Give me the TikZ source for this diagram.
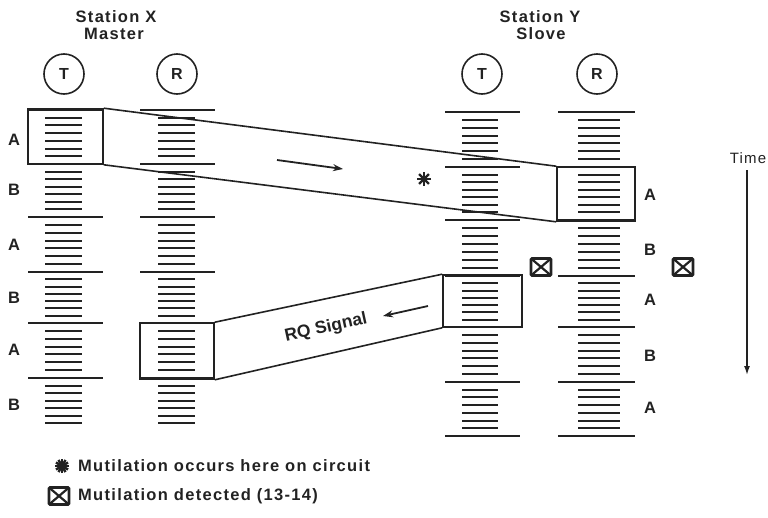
\documentclass[tikz,border=0pt]{standalone}
\usepackage{fontspec}
\setmainfont{Liberation Sans}[LetterSpace=8]
\newfontfamily\plainfont{Liberation Sans}
\usetikzlibrary{arrows.meta}
\definecolor{inkc}{HTML}{222222}
\tikzset{
  lbl/.style={font=\fontsize{16.5}{18}\selectfont\bfseries, text=inkc, inner sep=0pt},
  circ/.style={circle, draw=inkc, line width=1.6pt, minimum size=40pt, inner sep=0pt, font=\fontsize{16}{18}\selectfont\bfseries, text=inkc},
  sigbox/.style={rectangle, draw=inkc, line width=1.6pt, inner sep=0pt},
  shortl/.style={draw=inkc, line width=2pt},
  longl/.style={draw=inkc, line width=1.6pt},
  edge/.style={draw=inkc, line width=1.6pt},
  xbox/.style={rectangle, draw=inkc, line width=2.6pt, rounded corners=1pt, minimum width=20pt, minimum height=17pt, inner sep=0pt,
    path picture={\draw[inkc, line width=2.2pt] (path picture bounding box.north west) -- (path picture bounding box.south east)
      (path picture bounding box.north east) -- (path picture bounding box.south west);}},
  star8/.pic={\foreach \a in {0,45,90,135} \draw[inkc, line width=2.2pt] (\a:7) -- (\a+180:7);},
  bigstar/.pic={\foreach \a in {0,30,...,150} \draw[inkc, line width=2.4pt] (\a:7) -- (\a+180:7); \fill[inkc] (0,0) circle (4.5);},
}
\begin{document}
\begin{tikzpicture}[x=1pt,y=-1pt]
\useasboundingbox (0,0) rectangle (768,517);

% headers
\node[lbl] (sx) at (116,17) {Station X};
\node[lbl] (mx) at (114,34) {Master};
\node[lbl] (sy) at (540,17) {Station Y};
\node[lbl] (sly) at (541,34) {Slove};

\node[circ] (xtc) at (64,74) {T};
\node[circ] (xrc) at (177,74) {R};
\node[circ] (ytc) at (482,74) {T};
\node[circ] (yrc) at (597,74) {R};

% stacks of station X
\foreach \t/\b in {110/164,164/217,217/272,272/323,323/378,378/431}{
  \foreach \k [evaluate=\k as \yy using \t+\k*(\b-\t)/7] in {1,...,6}{
    \draw[shortl] (45,\yy) -- (82,\yy);
    \draw[shortl] (158,\yy) -- (195,\yy);
  }
  \draw[longl] (28,\t) -- (103,\t);
  \draw[longl] (140,\t) -- (215,\t);
}
% stacks of station Y
\foreach \t/\b in {112/167,167/220,220/276,276/327,327/382,382/436}{
  \foreach \k [evaluate=\k as \yy using \t+\k*(\b-\t)/7] in {1,...,6}{
    \draw[shortl] (462,\yy) -- (498,\yy);
    \draw[shortl] (578,\yy) -- (620,\yy);
  }
  \draw[longl] (445,\t) -- (520,\t);
  \draw[longl] (558,\t) -- (635,\t);
}
\draw[longl] (445,436) -- (520,436);
\draw[longl] (558,436) -- (635,436);

% boxes
\node[sigbox, minimum width=75pt, minimum height=55pt] (xtb) at (65.5,136.5) {};
\node[sigbox, minimum width=74pt, minimum height=56pt] (xrb) at (177,351) {};
\node[sigbox, minimum width=79pt, minimum height=52pt] (ytb) at (482.5,301) {};
\node[sigbox, minimum width=78pt, minimum height=54pt] (yrb) at (596,194) {};

% signal paths
\draw[edge] (xtb.north east) -- (yrb.north west);
\draw[edge] (xtb.south east) -- (yrb.south west);
\draw[edge] (ytb.north west) -- (xrb.north east);
\draw[edge] (ytb.south west) -- (xrb.south east);

\coordinate (a1s) at (277,160);
\coordinate (a1e) at (343,169);
\draw[edge, line width=1.8pt, -{Stealth[length=10pt,width=7pt]}] (a1s) -- (a1e);
\coordinate (a2s) at (428,306);
\coordinate (a2e) at (383,316);
\draw[edge, line width=1.8pt, -{Stealth[length=10pt,width=7pt]}] (a2s) -- (a2e);
\node[text=inkc, inner sep=0pt, font=\plainfont\fontsize{17.5}{19}\selectfont\bfseries, rotate=12.3] (rq) at (326,328) {RQ Signal};

\pic at (424,179) {star8};
\node[xbox] (d1) at (541,267) {};
\node[xbox] (d2) at (683,267) {};

% segment labels
\foreach \y/\l [count=\i] in {140/A,190/B,245/A,298/B,350/A,405/B}
  \node[lbl] (xl\i) at (14,\y) {\l};
\foreach \y/\l [count=\i] in {195/A,250/B,300/A,356/B,408/A}
  \node[lbl] (yl\i) at (650,\y) {\l};

% time
\node[lbl, font=\fontsize{15}{17}\selectfont] (time) at (748,158) {Time};
\coordinate (t1) at (747,170);
\coordinate (t2) at (747,375);
\draw[inkc, line width=1.5pt, -{Latex[length=9pt,width=6pt]}] (t1) -- (t2);

% legend
\pic at (62,466) {bigstar};
\node[lbl, anchor=west] (lg1) at (78,466) {Mutilation occurs here on circuit};
\node[xbox] (lgb) at (59,496) {};
\node[lbl, anchor=west] (lg2) at (78,496) {Mutilation detected (13-14)};
\end{tikzpicture}
\end{document}
